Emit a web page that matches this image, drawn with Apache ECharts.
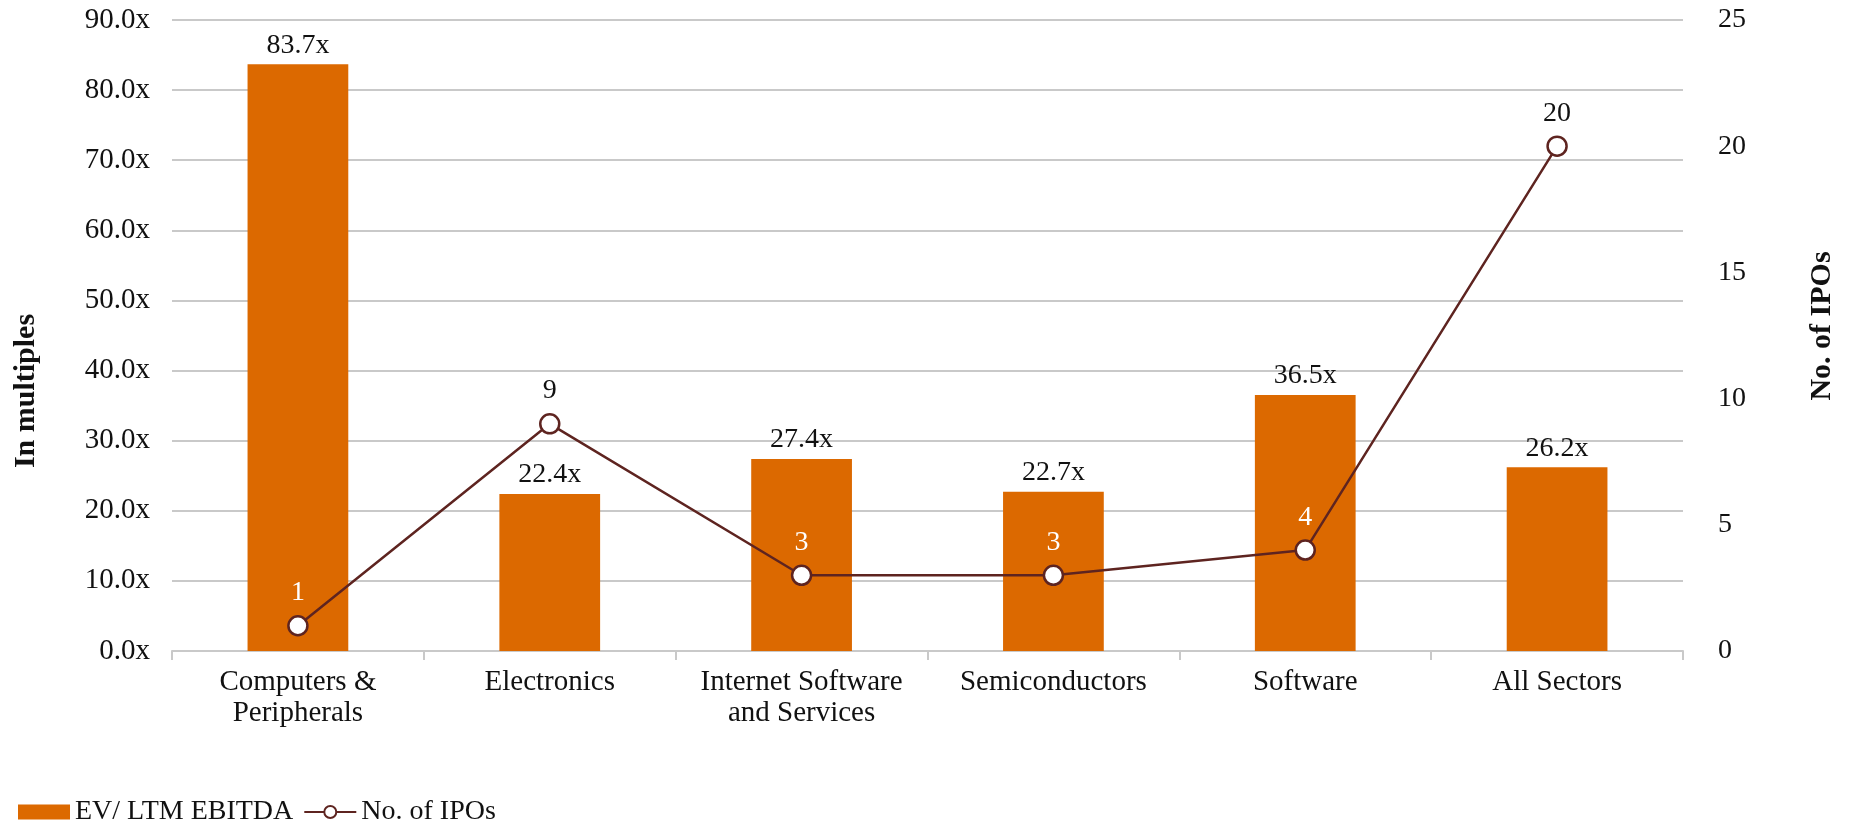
<!DOCTYPE html>
<html>
<head>
<meta charset="utf-8">
<script src="https://cdn.jsdelivr.net/npm/echarts@6/dist/echarts.min.js"></script>
<style>
html,body{margin:0;padding:0;background:#fff;}
#chart{width:1852px;height:824px;}
</style>
</head>
<body>
<div id="chart"></div>
<script>
const categories = ['Computers &\nPeripherals', 'Electronics', 'Internet Software\nand Services', 'Semiconductors', 'Software', 'All Sectors'];
const evEbitda = [83.7, 22.4, 27.4, 22.7, 36.5, 26.2];
const ipoCounts = [1, 9, 3, 3, 4, 20];
const leftTicks = {min: 0, max: 90, interval: 10};
const rightTicks = {min: 0, max: 25, interval: 5};

const FONT = '"Liberation Serif", serif';
const BAR = '#dc6900';
const LINE = '#5e2420';
const GRID = '#c9c9c9';

const chart = echarts.init(document.getElementById('chart'));

const lineData = ipoCounts.map((v, i) => {
  const inLeftUnits = v * (leftTicks.max / rightTicks.max);
  const inside = inLeftUnits < evEbitda[i];
  return {value: v, label: {color: inside ? '#ffffff' : '#111111'}};
});

chart.setOption({
  animation: false,
  grid: {left: 172, right: 169, top: 20, bottom: 173, containLabel: false},
  legend: {
    left: 13, top: 793, itemWidth: 52, itemHeight: 15, itemGap: 10,
    textStyle: {fontFamily: FONT, fontSize: 28, color: '#111'},
    data: [{name: 'EV/ LTM EBITDA', icon: 'rect'}, {name: 'No. of IPOs'}]
  },
  xAxis: {
    type: 'category', data: categories,
    axisLine: {lineStyle: {color: GRID, width: 2}},
    axisTick: {show: true, length: 9, lineStyle: {color: GRID, width: 2}},
    axisLabel: {fontFamily: FONT, fontSize: 29, color: '#111', margin: 16, lineHeight: 31, interval: 0}
  },
  yAxis: [{
    type: 'value', min: leftTicks.min, max: leftTicks.max, interval: leftTicks.interval,
    axisLine: {show: false}, axisTick: {show: false},
    splitLine: {lineStyle: {color: GRID, width: 2}},
    axisLabel: {fontFamily: FONT, fontSize: 29, color: '#111', margin: 22,
      formatter: v => v.toFixed(1) + 'x'}
  }, {
    type: 'value', min: rightTicks.min, max: rightTicks.max, interval: rightTicks.interval,
    axisLine: {show: false}, axisTick: {show: false}, splitLine: {show: false},
    axisLabel: {fontFamily: FONT, fontSize: 28, color: '#111', margin: 35}
  }],
  graphic: [{
    type: 'text', rotation: Math.PI / 2, x: 26, y: 391,
    style: {text: 'In multiples', font: 'bold 30px ' + FONT, fill: '#111', align: 'center', verticalAlign: 'middle'}
  }, {
    type: 'text', rotation: Math.PI / 2, x: 1822, y: 326,
    style: {text: 'No. of IPOs', font: 'bold 30px ' + FONT, fill: '#111', align: 'center', verticalAlign: 'middle'}
  }],
  series: [{
    name: 'EV/ LTM EBITDA', type: 'bar', data: evEbitda, barWidth: '40%',
    itemStyle: {color: BAR},
    label: {show: true, position: 'top', distance: 5, fontFamily: FONT, fontSize: 28, color: '#111',
      formatter: p => p.value.toFixed(1) + 'x'}
  }, {
    name: 'No. of IPOs', type: 'line', yAxisIndex: 1, data: lineData,
    symbol: 'circle', symbolSize: 19,
    lineStyle: {color: LINE, width: 2.5},
    itemStyle: {color: '#ffffff', borderColor: LINE, borderWidth: 2.5},
    label: {show: true, position: 'top', distance: 8, fontFamily: FONT, fontSize: 28}
  }]
});
</script>
</body>
</html>
